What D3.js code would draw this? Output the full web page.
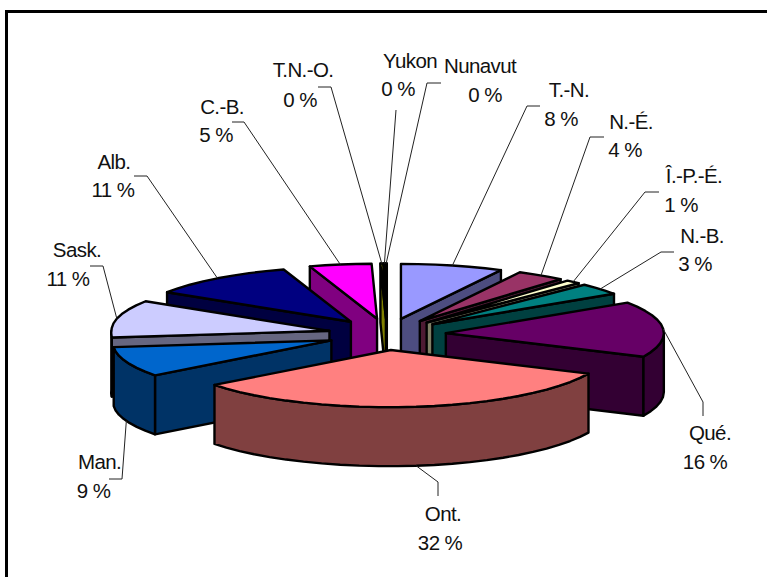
<!DOCTYPE html>
<html>
<head>
<meta charset="utf-8">
<style>
  html, body { margin: 0; padding: 0; background: #fff; overflow: hidden; }
  text { font-family: "Liberation Sans", Arial, sans-serif; font-size: 20.5px; fill: #111; letter-spacing: -0.6px; }
</style>
</head>
<body>
<script src="https://cdn.jsdelivr.net/npm/d3@7"></script>
<script>
// provinces, clockwise from 12 o'clock
const provinces = ['T.-N.', 'N.-É.', 'Î.-P.-É.', 'N.-B.', 'Qué.', 'Ont.', 'Man.', 'Sask.', 'Alb.', 'C.-B.', 'T.N.-O.', 'Yukon', 'Nunavut'];
const shares = [7.6, 3.6, 1.1, 3.4, 16.3, 32.49, 8.71, 11, 11, 4.6, 0.2, 0.1, 0.1];
const topColors = ['#9999FF', '#993366', '#FFFFCC', '#008080', '#660066', '#FF8080', '#0066CC', '#CCCCFF', '#000080', '#FF00FF', '#FFFF00', '#00FFFF', '#800080'];

// label centres and leader line elbows, in page pixels
const labelPos = [[569, 90, 561, 119], [631, 122, 625, 150], [694, 176, 681, 205], [702, 236, 695, 264], [710, 433, 705, 462], [443, 514, 440, 543], [99.5, 462, 93.5, 491], [77, 250, 68, 279], [114, 162, 113, 190], [222, 107, 216, 135], [303, 70, 300, 100], [410, 61, 398, 89], [480, 66, 485, 95]];
const leaderPos = [
    [[527, 106], [540, 106]], [[590, 137], [604, 137]], [[645, 192], [659, 192]], [[661, 252], [674, 252]],
    [[703, 402], [703, 416]], [[438, 482], [438, 496]], [[122, 479], [109, 479]], [[103, 266], [90, 266]],
    [[147, 176], [134, 176]], [[244, 122], [232, 122]], [[331, 87], [318, 87]], [[396, 110]], [[427, 83], [441, 83]]
];

// pie geometry
const cx = 387, cy = 334.3;     // centre of the whole pie
const rx = 218, ry = 55;        // ellipse radii of one slice
const depth = 59;               // wall height
const explodeX = 59, explodeY = 15.8;
const frontShift = 3;           // front slices sit a little to the left
const facet = 5 * Math.PI / 180;

const svg = d3.select('body').append('svg')
    .attr('width', 767)
    .attr('height', 577);

// chart border, only top and left show
svg.append('path')
    .attr('d', 'M6.5,577V11.5H767')
    .attr('fill', 'none')
    .attr('stroke', '#000')
    .attr('stroke-width', 3);

const pie = d3.pie().sort(null).value((d) => d);
const line = d3.line();

const slices = pie(shares).map((d, i) => {
    const mid = (d.startAngle + d.endAngle) / 2;
    return {
        i: i,
        start: d.startAngle,
        end: d.endAngle,
        mid: mid,
        ax: cx + explodeX * Math.sin(mid) + frontShift * Math.min(0, Math.cos(mid)),
        ay: cy - explodeY * Math.cos(mid)
    };
});

// point on the rim of slice s at angle a, the near part of the pie is drawn a bit larger
const rimPoint = (s, a) => {
    const near = Math.max(0, -Math.cos(a));
    const wide = Math.sin(a) < 0 ? 1 + 0.05 * near : 1;
    return [s.ax + rx * wide * Math.sin(a), s.ay - ry * (1 + 0.04 * near) * Math.cos(a)];
};

// rim sampled with coarse facets, the way the original looks
const rimPoints = (s, a0, a1) => {
    const pts = [];
    const n = Math.max(1, Math.ceil((a1 - a0) / facet));
    for (let k = 0; k <= n; k++) pts.push(rimPoint(s, a0 + (a1 - a0) * k / n));
    return pts;
};

const drop = (p) => [p[0], p[1] + depth];

// back slices first
const order = slices.slice().sort((a, b) => Math.cos(b.mid) - Math.cos(a.mid));

const groups = svg.selectAll('g.slice')
    .data(order)
    .enter()
    .append('g')
    .attr('class', 'slice')
    .attr('stroke', '#000')
    .attr('stroke-width', 2.4)
    .attr('stroke-linejoin', 'round');

groups.each(function (s) {
    const g = d3.select(this);
    const side = d3.rgb(topColors[s.i]);
    const sideColor = d3.rgb(side.r / 2, side.g / 2, side.b / 2).formatHex();
    const apex = [s.ax, s.ay];

    // radial walls that face the viewer
    [s.start, s.end].forEach((a, k) => {
        const facing = k === 0 ? Math.sin(a) < 0 : Math.sin(a) > 0;
        if (!facing) return;
        const p = rimPoint(s, a);
        g.append('path')
            .attr('d', line([apex, p, drop(p), drop(apex)]) + 'Z')
            .attr('fill', sideColor);
    });

    // outer wall, front half of the ellipse only
    const a0 = Math.max(s.start, Math.PI / 2);
    const a1 = Math.min(s.end, Math.PI * 1.5);
    if (a1 > a0) {
        const top = rimPoints(s, a0, a1);
        const bottom = top.map(drop).reverse();
        g.append('path')
            .attr('d', line(top.concat(bottom)) + 'Z')
            .attr('fill', sideColor);
    }

    // top face
    g.append('path')
        .attr('d', line([apex].concat(rimPoints(s, s.start, s.end))) + 'Z')
        .attr('fill', topColors[s.i]);
});

// leader lines start on the rim at the middle of the slice
svg.selectAll('path.leader')
    .data(slices)
    .enter()
    .append('path')
    .attr('class', 'leader')
    .attr('fill', 'none')
    .attr('stroke', '#222')
    .attr('stroke-width', 1)
    .attr('d', (s) => {
        let p = rimPoint(s, s.mid);
        if (Math.cos(s.mid) < 0) p = drop(p);
        return line([p].concat(leaderPos[s.i]));
    });

// labels: name and rounded share
svg.selectAll('text.name')
    .data(provinces)
    .enter()
    .append('text')
    .attr('class', 'name')
    .attr('text-anchor', 'middle')
    .attr('dy', '0.35em')
    .attr('x', (d, i) => labelPos[i][0])
    .attr('y', (d, i) => labelPos[i][1])
    .text((d) => d);

svg.selectAll('text.share')
    .data(shares)
    .enter()
    .append('text')
    .attr('class', 'share')
    .attr('text-anchor', 'middle')
    .attr('dy', '0.35em')
    .attr('x', (d, i) => labelPos[i][2])
    .attr('y', (d, i) => labelPos[i][3])
    .text((d) => Math.round(d) + ' %');
</script>
</body>
</html>
